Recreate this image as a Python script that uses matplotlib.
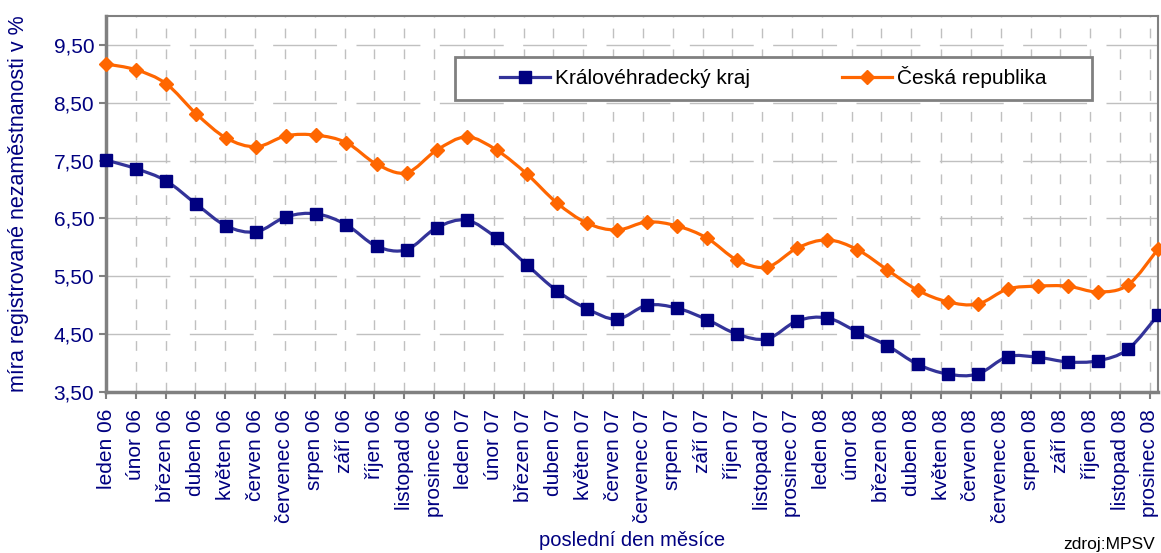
import matplotlib
matplotlib.use("Agg")
import matplotlib.pyplot as plt
import numpy as np
from matplotlib.path import Path
from matplotlib.patches import PathPatch, Rectangle
from matplotlib.lines import Line2D

plt.rcParams['font.family'] = ['Liberation Sans', 'DejaVu Sans']

# months (last day of month), 2006-2008
months = ["leden", "únor", "březen", "duben", "květen", "červen",
          "červenec", "srpen", "září", "říjen", "listopad", "prosinec"]
labels = [f"{m} {y}" for y in ("06", "07", "08") for m in months]

# unemployment rate in %
kraj = [7.51, 7.36, 7.15, 6.75, 6.37, 6.27, 6.53, 6.58, 6.39, 6.02, 5.96, 6.34,
        6.47, 6.16, 5.70, 5.25, 4.94, 4.76, 5.00, 4.95, 4.75, 4.50, 4.42, 4.73,
        4.78, 4.54, 4.30, 3.98, 3.81, 3.81, 4.11, 4.10, 4.02, 4.04, 4.24, 4.83]
cr = [9.17, 9.07, 8.83, 8.31, 7.89, 7.74, 7.93, 7.94, 7.81, 7.44, 7.29, 7.68,
      7.91, 7.68, 7.27, 6.77, 6.42, 6.30, 6.44, 6.37, 6.16, 5.78, 5.66, 5.99,
      6.13, 5.96, 5.61, 5.26, 5.06, 5.02, 5.28, 5.33, 5.33, 5.23, 5.35, 5.97]

NAVY = "#000080"
BLUE_LINE = "#333399"
ORANGE = "#FF6600"
GRAY = "#808080"


def smooth_path(xs, ys):
    # Catmull-Rom through the points, drawn as cubic Bezier segments
    p = np.column_stack([xs, ys]).astype(float)
    ext = np.vstack([p[0], p, p[-1]])
    verts = [p[0]]
    codes = [Path.MOVETO]
    for i in range(len(p) - 1):
        p0, p1, p2, p3 = ext[i], ext[i + 1], ext[i + 2], ext[i + 3]
        verts += [p1 + (p2 - p0) / 6, p2 - (p3 - p1) / 6, p2]
        codes += [Path.CURVE4] * 3
    return Path(verts, codes)


fig = plt.figure(figsize=(11.61, 5.53), dpi=100)
ax = fig.add_axes([106 / 1161, 1 - 392 / 553, 1052 / 1161, 376 / 553])

x = np.arange(len(labels))

ax.add_patch(PathPatch(smooth_path(x, cr), facecolor="none", edgecolor=ORANGE,
                       lw=2.3, zorder=3, clip_on=False))
ax.add_patch(PathPatch(smooth_path(x, kraj), facecolor="none", edgecolor=BLUE_LINE,
                       lw=2.3, zorder=3, clip_on=False))
ax.plot(x, cr, ls="none", marker="D", ms=7.5, color=ORANGE, zorder=4, clip_on=False)
ax.plot(x, kraj, ls="none", marker="s", ms=8, color=NAVY, zorder=4, clip_on=False)

ax.set_xlim(0, len(labels) - 1)
ax.set_ylim(3.5, 10.0)
yt = np.arange(3.5, 10.0, 1.0)
ax.set_yticks(yt)
ax.set_yticklabels([f"{v:.2f}".replace(".", ",") for v in yt])
# the category ticks in the source run slightly tighter than the points
ax.set_xticks(x * 34.73 / 35)
ax.set_xticklabels(labels, rotation=90)

ax.tick_params(axis="both", colors=GRAY, labelcolor=NAVY, direction="out",
               width=1.5, length=5)
ax.tick_params(axis="y", labelsize=15)
ax.tick_params(axis="x", labelsize=15, pad=7)

ax.grid(axis="x", color="#C0C0C0", lw=1, linestyle=(0, (7, 8)))
ax.grid(axis="y", color="#C0C0C0", lw=1, linestyle=(0, (46, 14)))
ax.set_axisbelow(True)

for side in ("left", "bottom"):
    ax.spines[side].set_color(GRAY)
    ax.spines[side].set_linewidth(2.5)
for side in ("top", "right"):
    ax.spines[side].set_color(GRAY)
    ax.spines[side].set_linewidth(1.5)

ax.set_ylabel("míra registrované nezaměstnanosti v %", color=NAVY, fontsize=15.5, labelpad=18)
ax.set_xlabel("poslední den měsíce", color=NAVY, fontsize=14.5, labelpad=6)

# legend box
fig.patches.append(Rectangle((455 / 1161, 1 - 100 / 553), 637 / 1161, 43 / 553,
                             transform=fig.transFigure, facecolor="white",
                             edgecolor=GRAY, lw=2, zorder=2))
handles = [
    Line2D([], [], color=BLUE_LINE, lw=2.3, marker="s", ms=8, mfc=NAVY, mec=NAVY),
    Line2D([], [], color=ORANGE, lw=2.3, marker="D", ms=7, mfc=ORANGE, mec=ORANGE),
]
fig.legend(handles, ["Královéhradecký kraj", "Česká republika"], ncol=2,
           loc="center left", bbox_to_anchor=(500 / 1161, 1 - 77 / 553),
           frameon=False, fontsize=15, handlelength=2.4, handletextpad=0.25,
           columnspacing=4.4, borderpad=0, borderaxespad=0)

fig.text(1155 / 1161, 1 - 545 / 553, "zdroj:MPSV", ha="right", va="center",
         fontsize=12.5, color="black")

fig.savefig("out.png", dpi=100)
